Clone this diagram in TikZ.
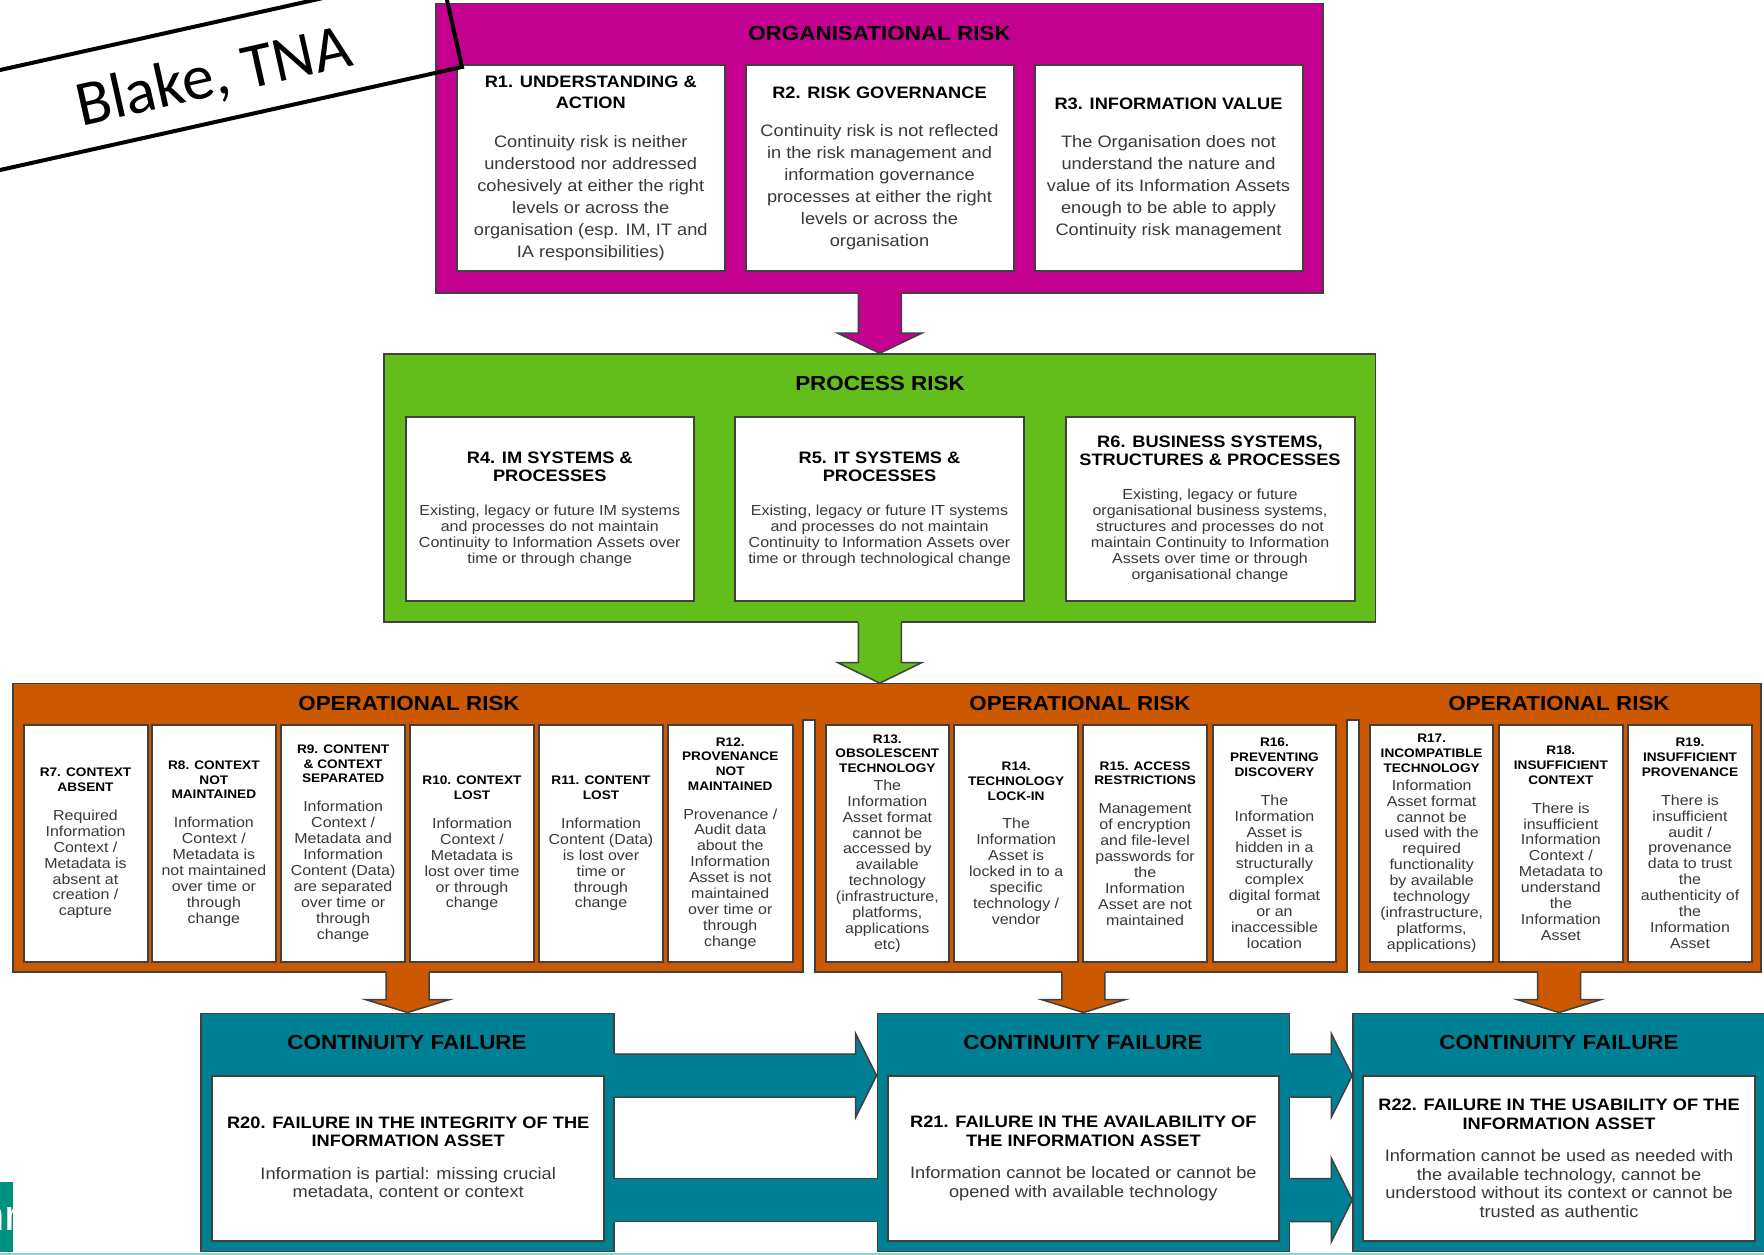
\documentclass[tikz,border=0pt]{standalone}
\usepackage{fontspec}
\setmainfont[FakeStretch=1.1]{Liberation Sans}
\newfontfamily\blakefont{Carlito}
\usepackage{tikz}
\usetikzlibrary{fit,calc}
\usepackage{xcolor}
\definecolor{orgmagenta}{RGB}{195,0,143}
\definecolor{procgreen}{RGB}{99,189,26}
\definecolor{opsorange}{RGB}{204,88,0}
\definecolor{failteal}{RGB}{0,128,148}
\definecolor{sideteal}{RGB}{0,146,128}
\definecolor{lineteal}{RGB}{140,212,204}
\tikzstyle{pixelgrid}=[x=0.2mm, y=-0.2mm]
\tikzstyle{frame}=[draw=black!75, line width=0.3mm, inner sep=0pt]
\tikzstyle{arrowline}=[draw=black!75, line width=0.3mm, line join=miter]
\tikzstyle{riskbox}=[fill=white, draw=black!75, line width=0.4mm, inner sep=0pt]
\tikzstyle{risktext}=[inner sep=0pt, anchor=center]
\tikzstyle{bandtitle}=[inner sep=0pt, font=\fontsize{11.6}{13}\selectfont\bfseries]
\newcommand{\riskpar}[2]{\begin{minipage}{#1}\centering #2\end{minipage}}
\newcommand{\orghd}{\fontsize{9.43}{12.3}\selectfont\bfseries}
\newcommand{\orgbd}{\fontsize{9.43}{12.47}\selectfont\color{black!78}}
\newcommand{\prochd}{\fontsize{9.43}{10.37}\selectfont\bfseries}
\newcommand{\procbd}{\fontsize{8.28}{9.07}\selectfont\color{black!78}}
\newcommand{\ophd}{\fontsize{7.06}{8.33}\selectfont\bfseries}
\newcommand{\opbd}{\fontsize{8.25}{9.07}\selectfont\color{black!78}}
\newcommand{\failhd}{\fontsize{9.43}{10.37}\selectfont\bfseries}
\newcommand{\failbd}{\fontsize{9.43}{10.6}\selectfont\color{black!78}}
\newcommand{\blockdown}[4]{%
  \coordinate (bdtop) at (#3 |- #2);
  \fill[#1] ($(bdtop)+(-21.5,-4)$) rectangle ($(#3)+(21.5,-#4)$);
  \filldraw[#1, arrowline] ($(bdtop)+(-21.5,0)$) -- ($(#3)+(-21.5,-#4)$) -- ($(#3)+(-42,-#4)$) -- (#3) -- ($(#3)+(42,-#4)$) -- ($(#3)+(21.5,-#4)$) -- ($(bdtop)+(21.5,0)$);
}
\newcommand{\blockright}[3]{%
  \coordinate (brl) at (#1.east |- 0,#3);
  \coordinate (brr) at (#2.west |- 0,#3);
  \fill[failteal] ($(brl)+(-4,-21.5)$) rectangle ($(brr)+(-21,21.5)$);
  \filldraw[failteal, arrowline] ($(brl)+(0,-21.5)$) -- ($(brr)+(-21,-21.5)$) -- ($(brr)+(-21,-42)$) -- (brr) -- ($(brr)+(-21,42)$) -- ($(brr)+(-21,21.5)$) -- ($(brl)+(0,21.5)$);
}
\newcommand{\blockband}[3]{%
  \coordinate (brl) at (#1.east |- 0,#3);
  \coordinate (brr) at (#2.west |- 0,#3);
  \fill[failteal] ($(brl)+(-4,-21.5)$) rectangle ($(brr)+(4,21.5)$);
  \draw[arrowline] ($(brl)+(0,-21.5)$) -- ($(brr)+(0,-21.5)$) ($(brl)+(0,21.5)$) -- ($(brr)+(0,21.5)$);
}

\begin{document}
\begin{tikzpicture}[pixelgrid]
	\useasboundingbox (0,0) rectangle (1764,1255);
	\clip (0,0) rectangle (1764,1255);
	\fill[white] (0,0) rectangle (1764,1255);

	\node[frame, fill=orgmagenta, fit={(436,3.5) (1323,293)}] (org) {};
	\node[frame, fill=procgreen, fit={(384,354) (1375.5,622)}] (proc) {};
	\filldraw[frame, fill=opsorange] (13,683.5) rectangle (1761,972);
	\filldraw[frame, fill=white] (803,972.75) |- (815,720) -- (815,972.75);
	\filldraw[frame, fill=white] (1347,972.75) |- (1359,720) -- (1359,972.75);
	\node[fit={(13,683.5) (1761,972)}, inner sep=0pt] (ops) {};
	\node[fit={(13,683.5) (803,972)}, inner sep=0pt] (op1) {};
	\node[fit={(815,683.5) (1347,972)}, inner sep=0pt] (op2) {};
	\node[fit={(1359,683.5) (1761,972)}, inner sep=0pt] (op3) {};
	\node[frame, fill=failteal, fit={(201,1013.3) (614,1251.5)}] (cf1) {};
	\node[frame, fill=failteal, fit={(877.3,1013.3) (1289.5,1251.5)}] (cf2) {};
	\node[frame, fill=failteal, fit={(1353,1013.3) (1765,1251.5)}] (cf3) {};

	\coordinate (gtip) at (proc.south |- ops.north);
	\blockdown{orgmagenta}{org.south}{proc.north}{20}
	\blockdown{procgreen}{proc.south}{gtip}{20.5}
	\blockdown{opsorange}{op1.south}{cf1.north}{13}
	\blockdown{opsorange}{op2.south}{cf2.north}{13}
	\blockdown{opsorange}{op3.south}{cf3.north}{13}
	\blockright{cf1}{cf2}{1075.5}
	\blockband{cf1}{cf2}{1200}
	\blockright{cf2}{cf3}{1075.5}
	\blockright{cf2}{cf3}{1200}

	\node[bandtitle] (orgtitle) at (879.5,33) {ORGANISATIONAL RISK};
	\node[bandtitle] (proctitle) at (880,383.5) {PROCESS RISK};
	\node[bandtitle] (optitlea) at (409,703.5) {OPERATIONAL RISK};
	\node[bandtitle] (optitleb) at (1080,703.5) {OPERATIONAL RISK};
	\node[bandtitle] (optitlec) at (1559,703.5) {OPERATIONAL RISK};
	\node[bandtitle] (cftitlea) at (407,1042.7) {CONTINUITY FAILURE};
	\node[bandtitle] (cftitleb) at (1083,1042.7) {CONTINUITY FAILURE};
	\node[bandtitle] (cftitlec) at (1559,1042.7) {CONTINUITY FAILURE};

	\node[riskbox, fit={(457,65) (724.5,271.5)}] (r1) {};
	\node[riskbox, fit={(745.5,65) (1013.5,271.5)}] (r2) {};
	\node[riskbox, fit={(1034.5,65) (1302.5,271.5)}] (r3) {};
	\node[riskbox, fit={(405.5,417) (694,601.5)}] (r4) {};
	\node[riskbox, fit={(735,417) (1024,601.5)}] (r5) {};
	\node[riskbox, fit={(1065.5,417) (1354.5,601.5)}] (r6) {};
	\node[riskbox, fit={(23.5,725) (147.5,962)}] (r7) {};
	\node[riskbox, fit={(151.7,725) (276,962)}] (r8) {};
	\node[riskbox, fit={(281,725) (405.3,962)}] (r9) {};
	\node[riskbox, fit={(410,725) (534,962)}] (r10) {};
	\node[riskbox, fit={(539,725) (663,962)}] (r11) {};
	\node[riskbox, fit={(668,725) (792.5,962)}] (r12) {};
	\node[riskbox, fit={(825.7,725) (949,962)}] (r13) {};
	\node[riskbox, fit={(954.3,725) (1078,962)}] (r14) {};
	\node[riskbox, fit={(1083.2,725) (1207,962)}] (r15) {};
	\node[riskbox, fit={(1212.5,725) (1336.4,962)}] (r16) {};
	\node[riskbox, fit={(1370,725) (1493.3,962)}] (r17) {};
	\node[riskbox, fit={(1499,725) (1622.7,962)}] (r18) {};
	\node[riskbox, fit={(1628.3,725) (1751.7,962)}] (r19) {};
	\node[riskbox, fit={(212.4,1076) (604,1240.7)}] (r20) {};
	\node[riskbox, fit={(887.7,1076) (1279,1240.7)}] (r21) {};
	\node[riskbox, fit={(1362.7,1076) (1755.4,1240.7)}] (r22) {};

	\node[risktext] (t1) at (r1.center) {\riskpar{52mm}{{\orghd R1. UNDERSTANDING \&\\ACTION\par}\vspace{9.6pt}{\orgbd Continuity risk is neither\\understood nor addressed\\cohesively at either the right\\levels or across the\\organisation (esp. IM, IT and\\IA responsibilities)\par}}};
	\node[risktext] (t2) at (r2.center) {\riskpar{52mm}{{\orghd R2. RISK GOVERNANCE\par}\vspace{9.6pt}{\orgbd Continuity risk is not reflected\\in the risk management and\\information governance\\processes at either the right\\levels or across the\\organisation\par}}};
	\node[risktext] (t3) at (r3.center) {\riskpar{52mm}{{\orghd R3. INFORMATION VALUE\par}\vspace{9.6pt}{\orgbd The Organisation does not\\understand the nature and\\value of its Information Assets\\enough to be able to apply\\Continuity risk management\par}}};

	\node[risktext] (t4) at (r4.center) {\riskpar{56mm}{{\prochd R4. IM SYSTEMS \&\\PROCESSES\par}\vspace{10.4pt}{\procbd Existing, legacy or future IM systems\\and processes do not  maintain\\Continuity to Information Assets over\\time or through change\par}}};
	\node[risktext] (t5) at (r5.center) {\riskpar{56mm}{{\prochd R5. IT SYSTEMS \&\\PROCESSES\par}\vspace{10.4pt}{\procbd Existing, legacy or future IT systems\\and processes do not maintain\\Continuity to Information Assets over\\time or through technological change\par}}};
	\node[risktext] (t6) at (r6.center) {\riskpar{56mm}{{\prochd R6. BUSINESS SYSTEMS,\\STRUCTURES \& PROCESSES\par}\vspace{10.4pt}{\procbd Existing, legacy or future\\organisational business systems,\\structures and processes do not\\maintain Continuity to Information\\Assets over time or through\\organisational change\par}}};

	\node[risktext] (t7) at (r7.center) {\riskpar{24.2mm}{{\ophd R7. CONTEXT\\ABSENT\par}\vspace{7.4pt}{\opbd Required\\Information\\Context /\\Metadata is\\absent at\\creation /\\capture\par}}};
	\node[risktext] (t8) at (r8.center) {\riskpar{24.2mm}{{\ophd R8. CONTEXT\\NOT\\MAINTAINED\par}\vspace{7.4pt}{\opbd Information\\Context /\\Metadata is\\not maintained\\over time or\\through\\change\par}}};
	\node[risktext] (t9) at (r9.center) {\riskpar{24.2mm}{{\ophd R9. CONTENT\\\& CONTEXT\\SEPARATED\par}\vspace{7.4pt}{\opbd Information\\Context /\\Metadata and\\Information\\Content (Data)\\are separated\\over time or\\through\\change\par}}};
	\node[risktext] (t10) at (r10.center) {\riskpar{24.2mm}{{\ophd R10. CONTEXT\\LOST\par}\vspace{7.4pt}{\opbd Information\\Context /\\Metadata is\\lost over time\\or through\\change\par}}};
	\node[risktext] (t11) at (r11.center) {\riskpar{24.2mm}{{\ophd R11. CONTENT\\LOST\par}\vspace{7.4pt}{\opbd Information\\Content (Data)\\is lost over\\time or\\through\\change\par}}};
	\node[risktext] (t12) at (r12.center) {\riskpar{24.2mm}{{\ophd R12.\\PROVENANCE\\NOT\\MAINTAINED\par}\vspace{7.4pt}{\opbd Provenance /\\Audit data\\about the\\Information\\Asset is not\\maintained\\over time or\\through\\change\par}}};
	\node[risktext] (t13) at (r13.center) {\riskpar{24.2mm}{{\ophd R13.\\OBSOLESCENT\\TECHNOLOGY\par}\vspace{1.1pt}{\opbd The\\Information\\Asset format\\cannot be\\accessed by\\available\\technology\\(infrastructure,\\platforms,\\applications\\etc)\par}}};
	\node[risktext] (t14) at (r14.center) {\riskpar{24.2mm}{{\ophd R14.\\TECHNOLOGY\\LOCK-IN\par}\vspace{7.4pt}{\opbd The\\Information\\Asset is\\locked in to a\\specific\\technology /\\vendor\par}}};
	\node[risktext] (t15) at (r15.center) {\riskpar{24.2mm}{{\ophd R15. ACCESS\\RESTRICTIONS\par}\vspace{7.4pt}{\opbd Management\\of encryption\\and file-level\\passwords for\\the\\Information\\Asset are not\\maintained\par}}};
	\node[risktext] (t16) at (r16.center) {\riskpar{24.2mm}{{\ophd R16.\\PREVENTING\\DISCOVERY\par}\vspace{7.4pt}{\opbd The\\Information\\Asset is\\hidden in a\\structurally\\complex\\digital format\\or an\\inaccessible\\location\par}}};
	\node[risktext] (t17) at (r17.center) {\riskpar{24.2mm}{{\ophd R17.\\INCOMPATIBLE\\TECHNOLOGY\par}\vspace{1.1pt}{\opbd Information\\Asset format\\cannot be\\used with the\\required\\functionality\\by available\\technology\\(infrastructure,\\platforms,\\applications)\par}}};
	\node[risktext] (t18) at (r18.center) {\riskpar{24.2mm}{{\ophd R18.\\INSUFFICIENT\\CONTEXT\par}\vspace{7.4pt}{\opbd There is\\insufficient\\Information\\Context /\\Metadata to\\understand\\the\\Information\\Asset\par}}};
	\node[risktext] (t19) at (r19.center) {\riskpar{24.2mm}{{\ophd R19.\\INSUFFICIENT\\PROVENANCE\par}\vspace{7.4pt}{\opbd There is\\insufficient\\audit /\\provenance\\data to trust\\the\\authenticity of\\the\\Information\\Asset\par}}};

	\node[risktext] (t20) at (r20.center) {\riskpar{76mm}{{\failhd R20. FAILURE IN THE INTEGRITY OF THE\\INFORMATION ASSET\par}\vspace{7.8pt}{\failbd Information is partial: missing crucial\\metadata, content or context\par}}};
	\node[risktext] (t21) at (r21.center) {\riskpar{76mm}{{\failhd R21. FAILURE IN THE AVAILABILITY OF\\THE INFORMATION ASSET\par}\vspace{7.8pt}{\failbd Information cannot be located or cannot be\\opened with available technology\par}}};
	\node[risktext] (t22) at (r22.center) {\riskpar{76mm}{{\failhd R22. FAILURE IN THE USABILITY OF THE\\INFORMATION ASSET\par}\vspace{7.8pt}{\failbd Information cannot be used as needed with\\the available technology, cannot be\\understood without its context or cannot be\\trusted as authentic\par}}};

	\fill[sideteal] (0,1181.7) rectangle (12.7,1251.7);
	\begin{scope}
		\clip (0,1181.7) rectangle (12.7,1251.7);
		\node[anchor=base west, inner sep=0pt, text=white, font=\fontsize{24.7}{26}\selectfont] (cut) at (-22,1230) {nr};
	\end{scope}
	\fill[lineteal] (0,1252.5) rectangle (1764,1255);

	\draw[line width=0.8mm, line join=miter] (-60,83.4) -- (440.7,-28.2) -- (462,67) -- (-60,183.4);
	\node[rotate=12.57, inner sep=0pt, font=\blakefont\fontsize{36.5}{40}\selectfont] (blake) at (214,78) {Blake, TNA};
\end{tikzpicture}
\end{document}
